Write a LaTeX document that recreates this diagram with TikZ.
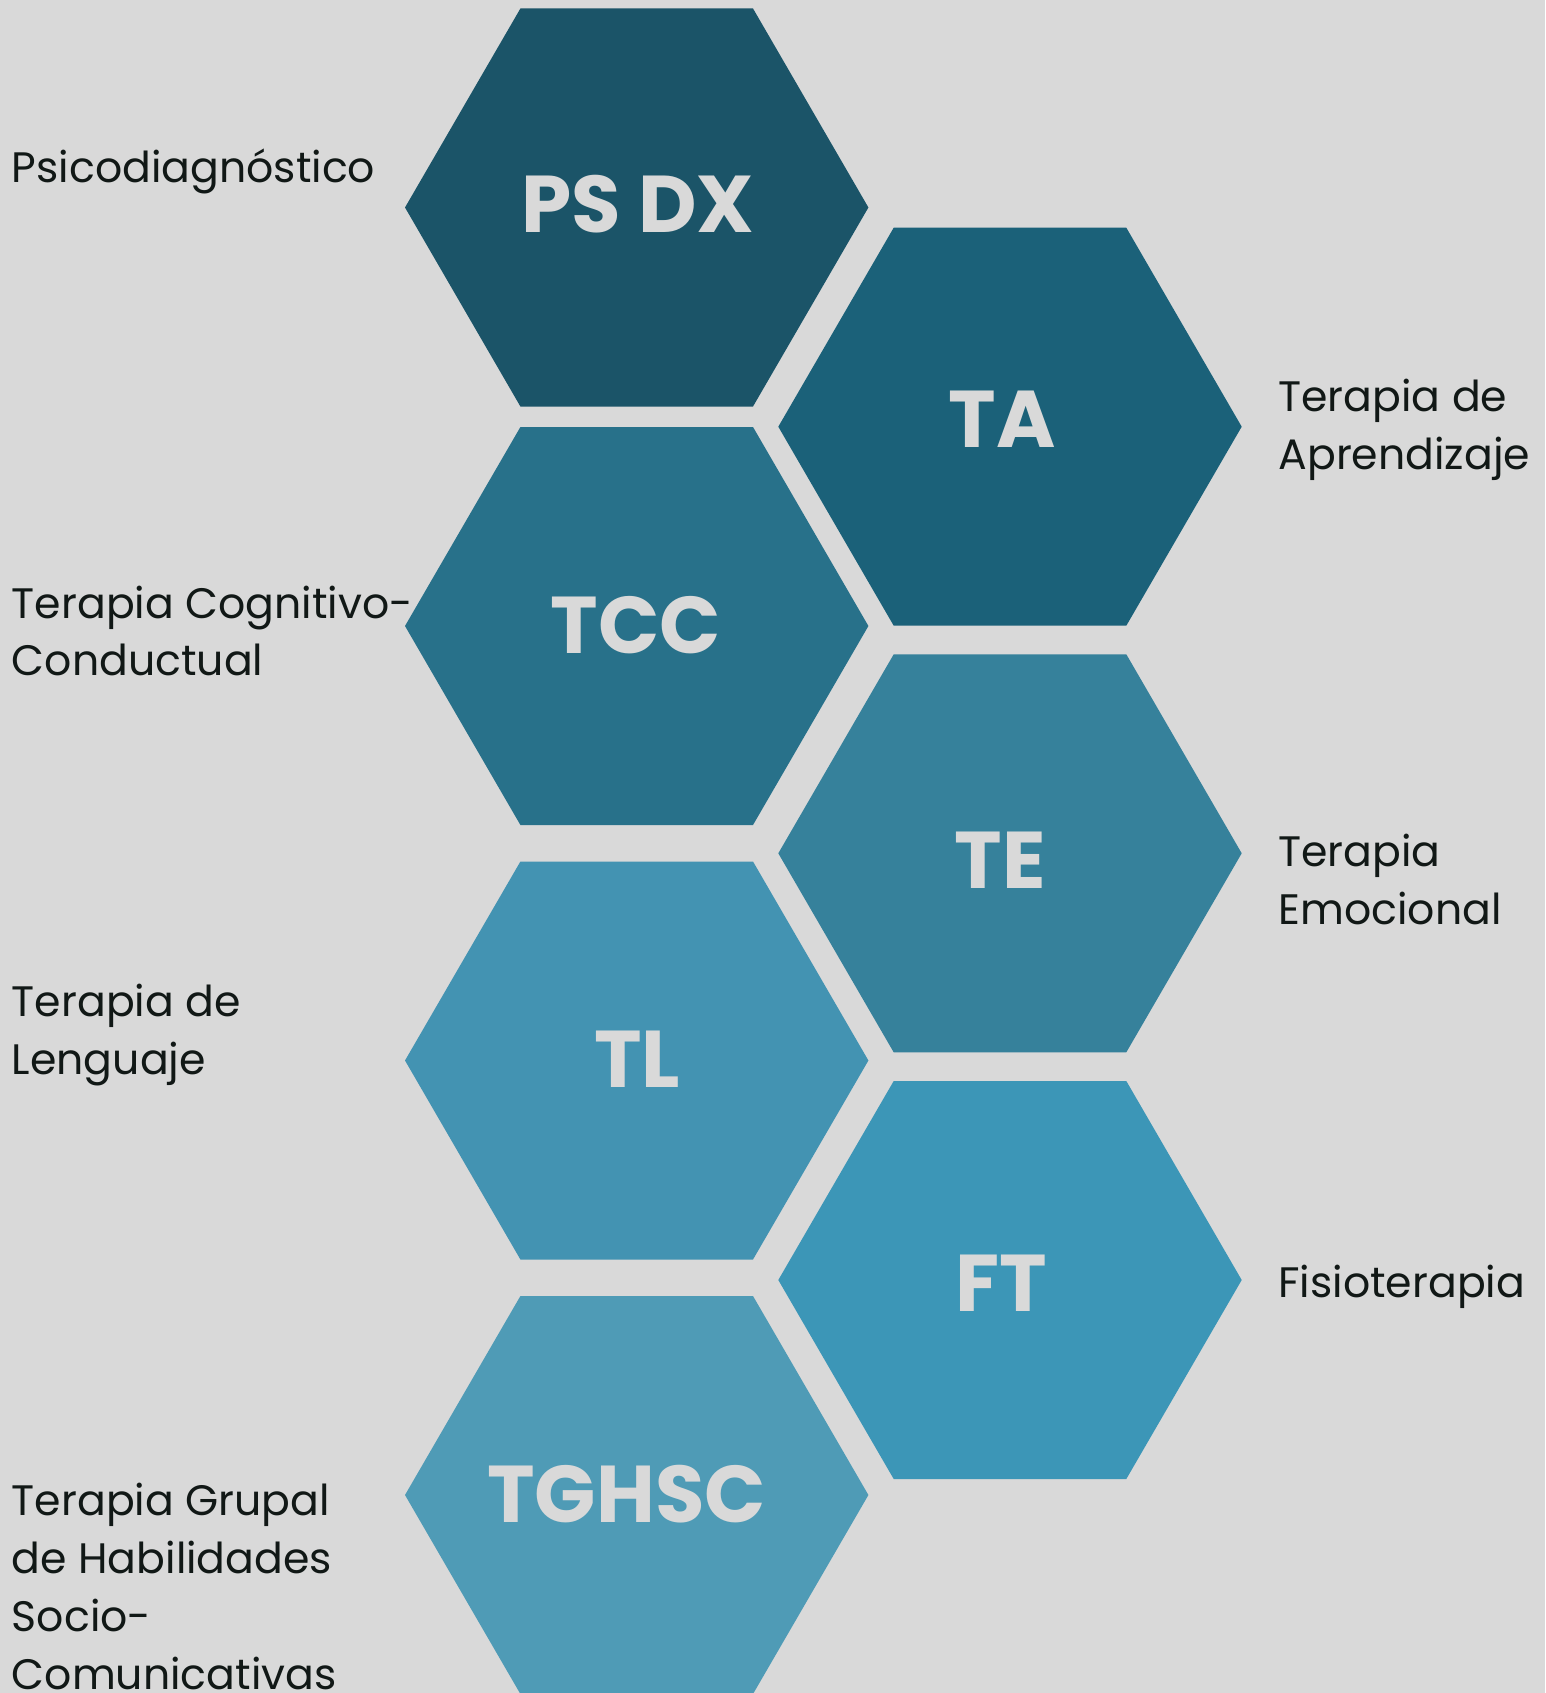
\documentclass[tikz,border=0pt]{standalone}
\usepackage{fontspec}
\setmainfont{Poppins}
\definecolor{bg}{HTML}{D9D9D9}
\definecolor{txt}{HTML}{111816}
\definecolor{cPS}{HTML}{1B5468}
\definecolor{cTA}{HTML}{1B6179}
\definecolor{cTCC}{HTML}{28718A}
\definecolor{cTE}{HTML}{36819B}
\definecolor{cTL}{HTML}{4393B2}
\definecolor{cFT}{HTML}{3C96B7}
\definecolor{cTG}{HTML}{4F9BB6}
\newcommand{\myhex}[3]{\fill[#1, shift={(#2,#3)}] (-231.7,0) -- (-116.3,-199) -- (116.3,-199) -- (231.7,0) -- (116.3,199) -- (-116.3,199) -- cycle;}
\tikzset{
  hexlabel/.style={anchor=base, inner sep=0pt, text=bg, font=\fontsize{80.5}{90}\selectfont\bfseries},
  sidelabel/.style={anchor=base west, inner sep=0pt, text=txt, font=\fontsize{42.6}{57}\selectfont}
}
\begin{document}
\begin{tikzpicture}[x=1pt,y=-1pt]
\useasboundingbox (0,0) rectangle (1545,1693);
\fill[bg] (0,0) rectangle (1545,1693);
\myhex{cPS}{636.7}{207.5}
\myhex{cTA}{1010}{426.7}
\myhex{cTCC}{636.7}{626}
\myhex{cTE}{1010}{853.3}
\myhex{cTL}{636.7}{1060.5}
\myhex{cFT}{1010}{1280}
\myhex{cTG}{636.7}{1495}
\node[hexlabel] (ps) at (638,232.3) {PS DX};
\node[hexlabel] (ta) at (1002,447.7) {TA};
\node[hexlabel] (tcc) at (636,653.3) {TCC};
\node[hexlabel] (te) at (1000,888.7) {TE};
\node[hexlabel] (tl) at (637,1087.7) {TL};
\node[hexlabel] (ft) at (1001.5,1311.7) {FT};
\node[hexlabel] (tg) at (626.7,1522.7) {TGHSC};
\node[sidelabel] (l1) at (11.7,182.3) {Psicodiagnóstico};
\node[sidelabel] (l2a) at (11.7,618.3) {Terapia Cognitivo-};
\node[sidelabel] (l2b) at (11.7,675.7) {Conductual};
\node[sidelabel] (l3a) at (11.7,1016.7) {Terapia de};
\node[sidelabel] (l3b) at (11.7,1074) {Lenguaje};
\node[sidelabel] (l4a) at (11.7,1515.7) {Terapia Grupal};
\node[sidelabel] (l4b) at (11.7,1573.3) {de Habilidades};
\node[sidelabel] (l4c) at (11.7,1631.7) {Socio-};
\node[sidelabel] (l4d) at (11.7,1689) {Comunicativas};
\node[sidelabel] (r1a) at (1278.3,411.7) {Terapia de};
\node[sidelabel] (r1b) at (1278.3,469) {Aprendizaje};
\node[sidelabel] (r2a) at (1278.3,866) {Terapia};
\node[sidelabel] (r2b) at (1278.3,924) {Emocional};
\node[sidelabel] (r3) at (1278.3,1297.8) {Fisioterapia};
\end{tikzpicture}
\end{document}
